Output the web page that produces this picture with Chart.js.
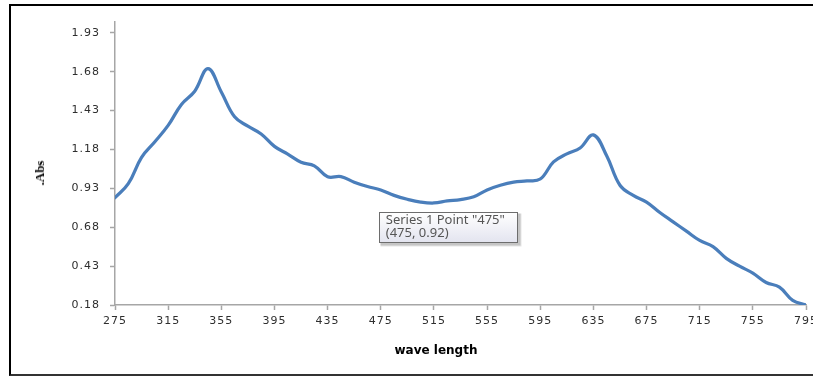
<!DOCTYPE html>
<html>
<head>
<meta charset="utf-8">
<script src="https://cdn.jsdelivr.net/npm/chart.js@4/dist/chart.umd.min.js"></script>
<style>
  html, body { margin: 0; padding: 0; background: #fff; width: 813px; height: 376px; overflow: hidden; }
  #frame { position: absolute; left: 9px; top: 4px; width: 900px; height: 368px;
           border-left: 2.5px solid #000; border-top: 2.5px solid #000; border-bottom: 2px solid #333; }
  #wrap { position: absolute; left: 0; top: 0; width: 830px; height: 376px; }
  .axis-title { position: absolute; font-weight: bold; color: #000; white-space: nowrap; }
  #xTitle { left: 436px; top: 350px; transform: translate(-50%, -50%);
            font-family: "DejaVu Sans", sans-serif; font-size: 12px; }
  #yTitle { left: 40px; top: 173px; transform: translate(-50%, -50%) rotate(-90deg);
            font-family: "Liberation Serif", serif; font-size: 13px; }
</style>
</head>
<body>
<div id="frame"></div>
<div id="wrap"><canvas id="chart"></canvas></div>
<div class="axis-title" id="xTitle">wave length</div>
<div class="axis-title" id="yTitle">.Abs</div>
<script>
// Absorbance spectrum, sampled every 10 nm
const wavelength = [
  275, 285, 295, 305, 315, 325, 335, 345, 355, 365,
  375, 385, 395, 405, 415, 425, 435, 445, 455, 465,
  475, 485, 495, 505, 515, 525, 535, 545, 555, 565,
  575, 585, 595, 605, 615, 625, 635, 645, 655, 665,
  675, 685, 695, 705, 715, 725, 735, 745, 755, 765,
  775, 785, 795
];
const absorbance = [
  0.87, 0.96, 1.13, 1.23, 1.335, 1.47, 1.555, 1.70, 1.55, 1.39,
  1.33, 1.28, 1.20, 1.15, 1.098, 1.075, 1.005, 1.006, 0.97, 0.942,
  0.92, 0.885, 0.86, 0.842, 0.836, 0.849, 0.858, 0.876, 0.92, 0.95,
  0.97, 0.978, 0.99, 1.10, 1.152, 1.19, 1.274, 1.14, 0.95, 0.885,
  0.842, 0.775, 0.715, 0.655, 0.595, 0.555, 0.48, 0.43, 0.385, 0.325,
  0.295, 0.21, 0.18
];
const xTicks = [275, 315, 355, 395, 435, 475, 515, 555, 595, 635, 675, 715, 755, 795];
const yTicks = [0.18, 0.43, 0.68, 0.93, 1.18, 1.43, 1.68, 1.93];
const seriesName = 'Series 1';
const highlighted = 475;

const axisGrey = '#a6a6a6';
const tickFont = { family: 'DejaVu Sans', size: 11 };

// Place the data-point tip just below and to the right of its point
Chart.Tooltip.positioners.belowPoint = function (items) {
  if (!items.length) return false;
  const el = items[0].element;
  return { x: el.x - 2, y: el.y + 22, xAlign: 'left', yAlign: 'top' };
};

// Wider tracking for tick labels only; framed, shaded box behind the tip
const decor = {
  id: 'decor',
  beforeDraw(chart) { chart.ctx.letterSpacing = '1px'; },
  afterDatasetsDraw(chart) { chart.ctx.letterSpacing = '0px'; },
  afterDraw(chart) { chart.ctx.letterSpacing = '0px'; },
  beforeTooltipDraw(chart, args) {
    const ctx = chart.ctx;
    ctx.letterSpacing = '0px';
    const t = args.tooltip;
    const x = Math.round(t.x) + 0.5, y = Math.round(t.y) + 0.5;
    const w = Math.round(t.width), h = Math.round(t.height);
    ctx.save();
    ctx.fillStyle = 'rgba(0,0,0,0.10)';
    ctx.fillRect(x + 1, y + 1, w + 3, h + 3);
    ctx.fillStyle = 'rgba(0,0,0,0.14)';
    ctx.fillRect(x + 1, y + 1, w + 2, h + 2);
    const g = ctx.createLinearGradient(0, y, 0, y + h);
    g.addColorStop(0, '#ffffff');
    g.addColorStop(1, '#e3e4ef');
    ctx.fillStyle = g;
    ctx.fillRect(x, y, w, h);
    ctx.strokeStyle = '#6d6d6d';
    ctx.lineWidth = 1;
    ctx.strokeRect(x, y, w, h);
    ctx.restore();
  }
};

const chart = new Chart(document.getElementById('chart'), {
  type: 'line',
  data: {
    datasets: [{
      label: seriesName,
      data: wavelength.map((w, i) => ({ x: w, y: absorbance[i] })),
      borderColor: '#4a7ebb',
      borderWidth: 3.25,
      borderCapStyle: 'round',
      borderJoinStyle: 'round',
      tension: 0.4,
      pointRadius: 0,
      pointHoverRadius: 0,
      fill: false
    }]
  },
  options: {
    responsive: true,
    maintainAspectRatio: false,
    animation: false,
    events: [],
    layout: { padding: { left: 0, top: 22, right: 24, bottom: 0 } },
    plugins: {
      legend: { display: false },
      tooltip: {
        enabled: true,
        position: 'belowPoint',
        xAlign: 'left',
        yAlign: 'top',
        caretSize: 0,
        caretPadding: 0,
        cornerRadius: 0,
        displayColors: false,
        backgroundColor: 'rgba(0,0,0,0)',
        borderWidth: 0,
        padding: { top: 2, bottom: 2, left: 7, right: 12 },
        titleColor: '#555555',
        bodyColor: '#555555',
        titleFont: { family: 'Noto Sans', size: 13, weight: 'normal', lineHeight: 1 },
        bodyFont: { family: 'Noto Sans', size: 13, weight: 'normal', lineHeight: 1 },
        titleMarginBottom: 0,
        titleSpacing: 0,
        bodySpacing: 0,
        callbacks: {
          title: items => `${seriesName} Point "${items[0].parsed.x}"`,
          label: item => `(${item.parsed.x}, ${item.parsed.y})`
        }
      }
    },
    scales: {
      x: {
        type: 'linear',
        min: xTicks[0],
        max: xTicks[xTicks.length - 1],
        afterBuildTicks: s => { s.ticks = xTicks.map(v => ({ value: v })); },
        afterFit: s => { s.height = 71; },
        grid: { display: true, drawOnChartArea: false, drawTicks: true, tickLength: 5, tickColor: axisGrey, tickWidth: 1.5 },
        border: { display: true, color: axisGrey, width: 1.5 },
        ticks: { font: tickFont, color: '#2e2e2e', padding: 5, maxRotation: 0, autoSkip: false,
                 callback: v => String(v) }
      },
      y: {
        type: 'linear',
        min: 0.18,
        max: 2.0,
        afterBuildTicks: s => { s.ticks = yTicks.map(v => ({ value: v })); },
        afterFit: s => { s.width = 115; },
        grid: { display: true, drawOnChartArea: false, drawTicks: true, tickLength: 5, tickColor: axisGrey, tickWidth: 1.5 },
        border: { display: true, color: axisGrey, width: 1.5 },
        ticks: { font: tickFont, color: '#2e2e2e', padding: 10, autoSkip: false,
                 callback: v => Number(v).toFixed(2) }
      }
    }
  },
  plugins: [decor]
});

chart.tooltip.setActiveElements([{ datasetIndex: 0, index: wavelength.indexOf(highlighted) }], { x: 0, y: 0 });
chart.update();
</script>
</body>
</html>
